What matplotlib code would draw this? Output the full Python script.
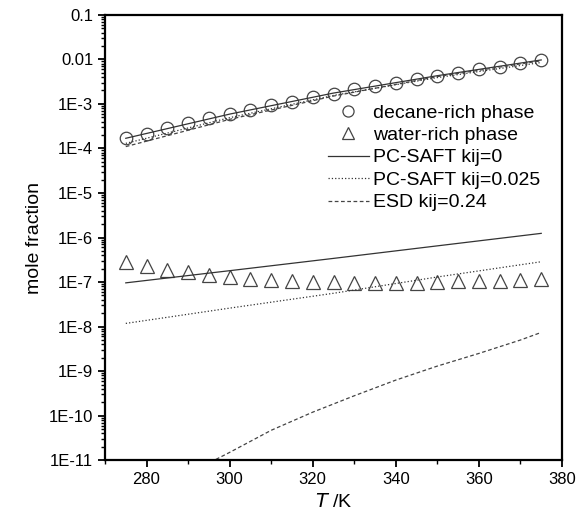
import numpy as np
import matplotlib
matplotlib.use("Agg")
import matplotlib.pyplot as plt
from matplotlib.ticker import FixedLocator, FixedFormatter, LogLocator, NullFormatter

plt.rcParams['font.family'] = ['Liberation Sans', 'DejaVu Sans']

# experimental data
T_exp = [275, 280, 285, 290, 295, 300, 305, 310, 315, 320, 325,
         330, 335, 340, 345, 350, 355, 360, 365, 370, 375]
x_decane = [1.69e-4, 2.12e-4, 2.93e-4, 3.68e-4, 4.77e-4, 5.96e-4, 7.33e-4,
            9.5e-4, 1.13e-3, 1.42e-3, 1.68e-3, 2.14e-3, 2.54e-3, 3.01e-3,
            3.59e-3, 4.19e-3, 5.04e-3, 6.12e-3, 6.89e-3, 8.22e-3, 9.75e-3]
x_water = [2.86e-7, 2.3e-7, 1.9e-7, 1.7e-7, 1.45e-7, 1.3e-7, 1.18e-7,
           1.12e-7, 1.05e-7, 1.02e-7, 1.0e-7, 9.7e-8, 9.7e-8, 9.7e-8,
           9.7e-8, 1.0e-7, 1.03e-7, 1.05e-7, 1.08e-7, 1.12e-7, 1.18e-7]

# model curves
T_mod = [275, 300, 325, 350, 375]
saft0_dec = [1.69e-4, 5.9e-4, 1.75e-3, 4.3e-3, 9.7e-3]
saft025_dec = [1.3e-4, 4.9e-4, 1.55e-3, 3.9e-3, 8.5e-3]
saft0_wat = [9.6e-8, 1.8e-7, 3.4e-7, 6.5e-7, 1.24e-6]
saft025_wat = [1.18e-8, 2.6e-8, 5.6e-8, 1.3e-7, 2.86e-7]
T_esd_dec = [275, 300, 325, 350, 375]
esd_dec = [1.1e-4, 4.5e-4, 1.5e-3, 4.1e-3, 9.3e-3]
T_esd_wat = [290, 300, 310, 320, 330, 340, 350, 360, 370, 375]
esd_wat = [5e-12, 1.5e-11, 4.7e-11, 1.2e-10, 2.8e-10, 6.3e-10,
           1.3e-9, 2.5e-9, 5.0e-9, 7.4e-9]

ytick_vals = [1e-11, 1e-10, 1e-9, 1e-8, 1e-7, 1e-6, 1e-5, 1e-4, 1e-3, 1e-2, 1e-1]
ytick_labels = ['1E-11', '1E-10', '1E-9', '1E-8', '1E-7', '1E-6', '1E-5',
                '1E-4', '1E-3', '0.01', '0.1']

fig = plt.figure(figsize=(5.77, 5.29), dpi=100)
ax = fig.add_axes([0.182, 0.130, 0.792, 0.842])

ax.plot(T_exp, x_decane, 'o', ms=9, mfc='none', mec='#444444', mew=0.9,
        label='decane-rich phase')
ax.plot(T_exp, x_water, '^', ms=9.5, mfc='none', mec='#444444', mew=0.9,
        label='water-rich phase')
ax.plot(T_mod, saft0_dec, '-', color='#333333', lw=0.9, label='PC-SAFT kij=0')
ax.plot(T_mod, saft0_wat, '-', color='#333333', lw=0.9)
ax.plot(T_mod, saft025_dec, ':', color='#333333', lw=0.9, label='PC-SAFT kij=0.025')
ax.plot(T_mod, saft025_wat, ':', color='#333333', lw=0.9)
ax.plot(T_esd_dec, esd_dec, '--', color='#444444', lw=0.9, dashes=(3, 2),
        label='ESD kij=0.24')
ax.plot(T_esd_wat, esd_wat, '--', color='#444444', lw=0.9, dashes=(3, 2))

ax.set_yscale('log')
ax.set_xlim(270, 380)
ax.set_ylim(1e-11, 0.1)
ax.yaxis.set_major_locator(FixedLocator(ytick_vals))
ax.yaxis.set_major_formatter(FixedFormatter(ytick_labels))
ax.yaxis.set_minor_locator(LogLocator(base=10, subs=np.arange(2, 10), numticks=20))
ax.yaxis.set_minor_formatter(NullFormatter())
ax.set_xticks([280, 300, 320, 340, 360, 380])
ax.set_xticks([270, 290, 310, 330, 350, 370], minor=True)

ax.tick_params(axis='both', which='major', direction='out', length=5, width=1.3,
               labelsize=12, top=False, right=False)
ax.tick_params(axis='both', which='minor', direction='out', length=3, width=1.0,
               top=False, right=False)
for s in ax.spines.values():
    s.set_linewidth(1.6)

ax.set_xlabel(r'$T$ /K', fontsize=14)
ax.set_ylabel('mole fraction', fontsize=14)

leg = ax.legend(loc='upper left', bbox_to_anchor=(0.488, 0.800), frameon=False,
                fontsize=14, handlelength=2.1, handletextpad=0.2,
                labelspacing=0.25, borderaxespad=0.0, borderpad=0.0)
for h in leg.legend_handles[:2]:
    h.set_markersize(8)

fig.savefig('out.png', dpi=100)
